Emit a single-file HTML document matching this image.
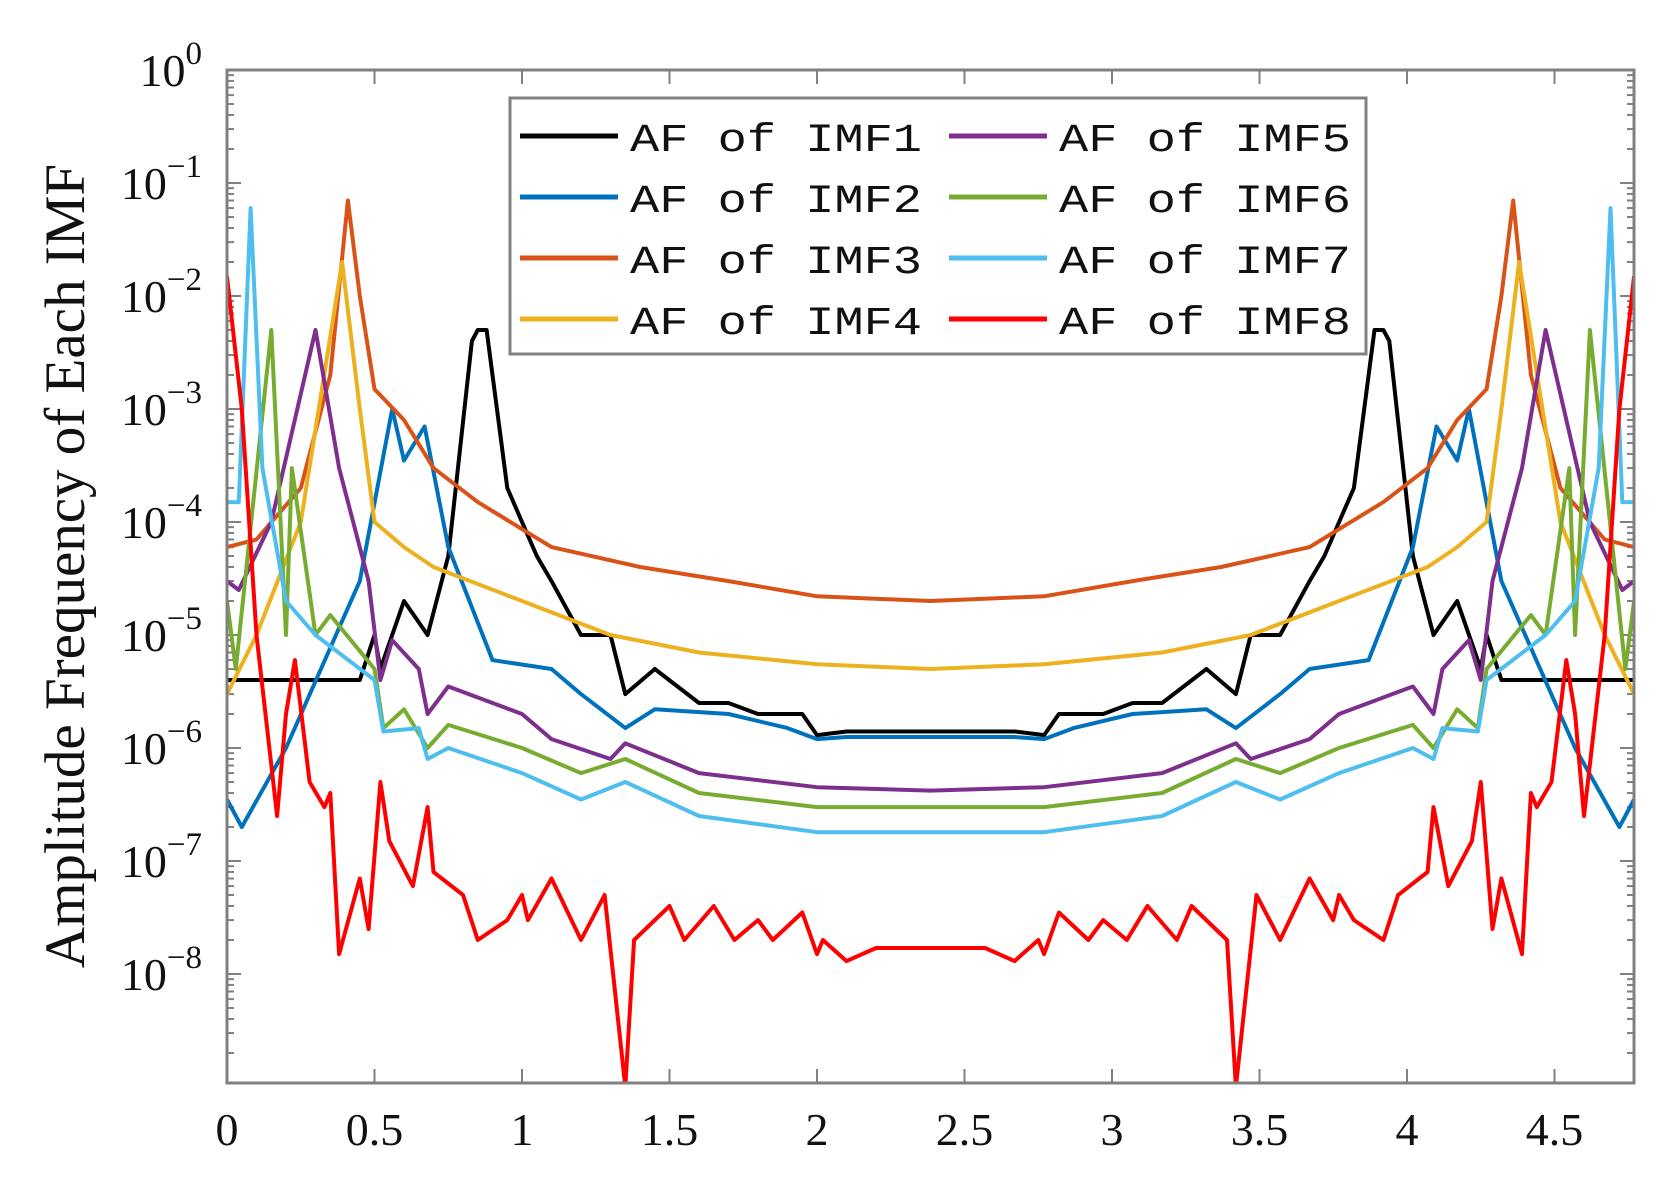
<!DOCTYPE html>
<html><head><meta charset="utf-8"><style>
html,body{margin:0;padding:0;background:#fff;}
svg{display:block;}
</style></head><body>
<svg id="s" width="1665" height="1180" xmlns="http://www.w3.org/2000/svg">
<rect width="1665" height="1180" fill="#fff"/>
<g id="ticks"></g>
<g id="series" fill="none" stroke-width="4" stroke-linejoin="round"></g>
<rect x="227" y="70" width="1407" height="1013" fill="none" stroke="#808080" stroke-width="3"/>
<g font-family="Liberation Serif, serif" font-size="46" fill="#111" id="labels"></g>
<text transform="translate(84,566) rotate(-90)" text-anchor="middle" font-family="Liberation Serif, serif" font-size="57" fill="#111">Amplitude Frequency of Each IMF</text>
<g id="legend"></g>
</svg>
<script>
const L=227,R=1634,T=70,B=1083,XU=295,DEC=113,XM=4.77;
const X=x=>L+x*XU, Y=ly=>T-ly*DEC;
const NS="http://www.w3.org/2000/svg";
function el(p,n,a,t){const e=document.createElementNS(NS,n);for(const k in a)e.setAttribute(k,a[k]);if(t!==undefined)e.textContent=t;document.getElementById(p).appendChild(e);return e;}
for(let i=0;i<=9;i++){const x=X(i*0.5);if(i>0){el('ticks','line',{x1:x,x2:x,y1:B,y2:B-14,stroke:'#808080','stroke-width':2});el('ticks','line',{x1:x,x2:x,y1:T,y2:T+14,stroke:'#808080','stroke-width':2});}
 el('labels','text',{x:x,y:1145,'text-anchor':'middle'},String(i*0.5));}
for(let d=0;d>=-9;d--){for(let m=1;m<=9;m++){const ly=d+Math.log10(m);if(ly>0.001)continue;const y=Y(ly);if(y>B)continue;const len=m==1?14:7;
 el('ticks','line',{x1:L,x2:L+len,y1:y,y2:y,stroke:'#808080','stroke-width':2});el('ticks','line',{x1:R,x2:R-len,y1:y,y2:y,stroke:'#808080','stroke-width':2});}
 if(d>=-8){const y=Y(d);const t=el('labels','text',{x:202,y:y+16,'text-anchor':'end'});t.textContent='10';const s=document.createElementNS(NS,'tspan');s.setAttribute('dy','-22');s.setAttribute('font-size','33');s.textContent=(d==0?'0':'\u2212'+(-d));t.appendChild(s);}}
const data={
'#000':[[0,4e-6],[0.45,4e-6],[0.5,1e-5],[0.52,5e-6],[0.6,2e-5],[0.68,1e-5],[0.75,5e-5],[0.83,4e-3],[0.85,5e-3],[0.88,5e-3],[0.95,2e-4],[1.0,1e-4],[1.05,5e-5],[1.1,3e-5],[1.2,1e-5],[1.3,1e-5],[1.35,3e-6],[1.45,5e-6],[1.6,2.5e-6],[1.7,2.5e-6],[1.8,2e-6],[1.95,2e-6],[2.0,1.3e-6],[2.1,1.4e-6],[2.385,1.4e-6]],
'#0072BD':[[0,3.5e-7],[0.05,2e-7],[0.2,1e-6],[0.45,3e-5],[0.56,1e-3],[0.6,3.5e-4],[0.67,7e-4],[0.75,6e-5],[0.9,6e-6],[1.1,5e-6],[1.2,3e-6],[1.35,1.5e-6],[1.45,2.2e-6],[1.7,2e-6],[1.9,1.5e-6],[2.0,1.2e-6],[2.1,1.25e-6],[2.385,1.25e-6]],
'#D95319':[[0,6e-5],[0.1,7e-5],[0.25,2e-4],[0.35,2e-3],[0.41,7e-2],[0.45,1e-2],[0.5,1.5e-3],[0.6,8e-4],[0.7,3e-4],[0.85,1.5e-4],[1.1,6e-5],[1.4,4e-5],[1.7,3e-5],[2.0,2.2e-5],[2.385,2e-5]],
'#EDB120':[[0,3e-6],[0.1,1e-5],[0.25,1e-4],[0.39,2e-2],[0.45,1e-3],[0.5,1e-4],[0.6,6e-5],[0.7,4e-5],[1.0,2e-5],[1.3,1e-5],[1.6,7e-6],[2.0,5.5e-6],[2.385,5e-6]],
'#7E2F8E':[[0,3e-5],[0.04,2.5e-5],[0.15,1e-4],[0.3,5e-3],[0.38,3e-4],[0.48,3e-5],[0.52,4e-6],[0.56,9e-6],[0.65,5e-6],[0.68,2e-6],[0.75,3.5e-6],[1.0,2e-6],[1.1,1.2e-6],[1.3,8e-7],[1.35,1.1e-6],[1.6,6e-7],[2.0,4.5e-7],[2.385,4.2e-7]],
'#77AC30':[[0,2e-5],[0.03,5e-6],[0.15,5e-3],[0.2,1e-5],[0.22,3e-4],[0.3,1e-5],[0.35,1.5e-5],[0.5,5e-6],[0.53,1.5e-6],[0.6,2.2e-6],[0.68,1e-6],[0.75,1.6e-6],[1.0,1e-6],[1.2,6e-7],[1.35,8e-7],[1.6,4e-7],[2.0,3e-7],[2.385,3e-7]],
'#4DBEEE':[[0,1.5e-4],[0.04,1.5e-4],[0.08,6e-2],[0.12,3e-4],[0.2,2e-5],[0.3,1e-5],[0.5,4e-6],[0.53,1.4e-6],[0.65,1.5e-6],[0.68,8e-7],[0.75,1e-6],[1.0,6e-7],[1.2,3.5e-7],[1.35,5e-7],[1.6,2.5e-7],[2.0,1.8e-7],[2.385,1.8e-7]],
'#FF0000':[[0,1.5e-2],[0.05,1e-3],[0.1,1e-5],[0.17,2.5e-7],[0.2,2e-6],[0.23,6e-6],[0.28,5e-7],[0.33,3e-7],[0.35,4e-7],[0.38,1.5e-8],[0.45,7e-8],[0.48,2.5e-8],[0.52,5e-7],[0.55,1.5e-7],[0.63,6e-8],[0.68,3e-7],[0.7,8e-8],[0.8,5e-8],[0.85,2e-8],[0.95,3e-8],[1.0,5e-8],[1.02,3e-8],[1.1,7e-8],[1.2,2e-8],[1.28,5e-8],[1.35,1e-9],[1.38,2e-8],[1.5,4e-8],[1.55,2e-8],[1.65,4e-8],[1.72,2e-8],[1.8,3e-8],[1.85,2e-8],[1.95,3.5e-8],[2.0,1.5e-8],[2.02,2e-8],[2.1,1.3e-8],[2.2,1.7e-8],[2.385,1.7e-8]]};
const order=['#000','#0072BD','#D95319','#EDB120','#7E2F8E','#77AC30','#4DBEEE','#FF0000'];
const clip=el('series','clipPath',{id:'c'});const cr=document.createElementNS(NS,'rect');cr.setAttribute('x',L);cr.setAttribute('y',T);cr.setAttribute('width',R-L);cr.setAttribute('height',B-T);clip.appendChild(cr);
for(const c of order){const h=data[c];const pts=h.concat(h.slice(0,-1).reverse().map(p=>[XM-p[0],p[1]]));
 el('series','polyline',{points:pts.map(p=>X(p[0]).toFixed(1)+','+Y(Math.log10(p[1])).toFixed(1)).join(' '),stroke:c,'clip-path':'url(#c)'});}
el('legend','rect',{x:510,y:98,width:856,height:256,fill:'#fff',stroke:'#808080','stroke-width':3});
const names=['AF of IMF1','AF of IMF2','AF of IMF3','AF of IMF4','AF of IMF5','AF of IMF6','AF of IMF7','AF of IMF8'];
for(let i=0;i<8;i++){const col=i>>2,row=i%4;const y=136+row*61;const lx=col?949:520;
 el('legend','line',{x1:lx,x2:lx+98,y1:y,y2:y,stroke:order[i],'stroke-width':5});
 el('legend','text',{x:lx+110,y:y+15,'font-family':'Liberation Mono, monospace','font-size':40,fill:'#111',textLength:292,lengthAdjust:'spacingAndGlyphs','xml:space':'preserve'},names[i].replace(/ /g,'  '));}
</script>
</body></html>
